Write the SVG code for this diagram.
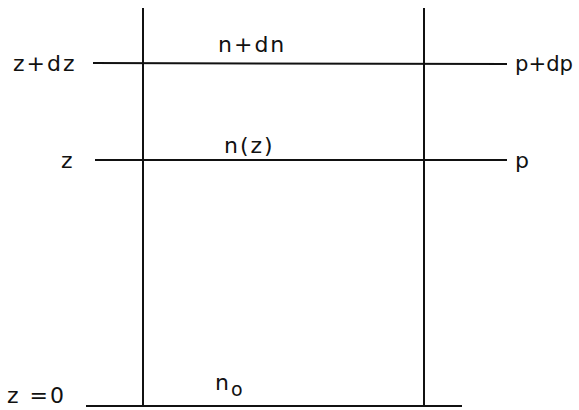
<svg xmlns="http://www.w3.org/2000/svg" width="579" height="410" viewBox="0 0 579 410">
<style>
.ln{stroke:#111;stroke-width:2;fill:none}
.t{font-family:"DejaVu Sans","Liberation Sans",sans-serif;font-size:22px;fill:#111;letter-spacing:2px}
</style>
<rect width="579" height="410" fill="#fff"/>
<g id="connectors">
<line class="ln" x1="143" y1="8" x2="143" y2="407"/>
<line class="ln" x1="424" y1="8" x2="424" y2="405"/>
<line class="ln" x1="93" y1="63" x2="507" y2="64"/>
<line class="ln" x1="95" y1="160" x2="507" y2="160"/>
<line class="ln" x1="86" y1="406" x2="462" y2="406"/>
</g>
<g id="labels">
<text class="t" x="13" y="71">z+dz</text>
<text class="t" x="61" y="168">z</text>
<text class="t" x="7" y="403">z =0</text>
<text class="t" x="218" y="52">n+dn</text>
<text class="t" x="224" y="153">n(z)</text>
<text class="t" x="215" y="390">n<tspan font-size="19" dy="6">o</tspan></text>
<text class="t" x="515" y="71" style="letter-spacing:0" textLength="58" lengthAdjust="spacingAndGlyphs">p+dp</text>
<text class="t" x="515" y="168">p</text>
</g>
</svg>
